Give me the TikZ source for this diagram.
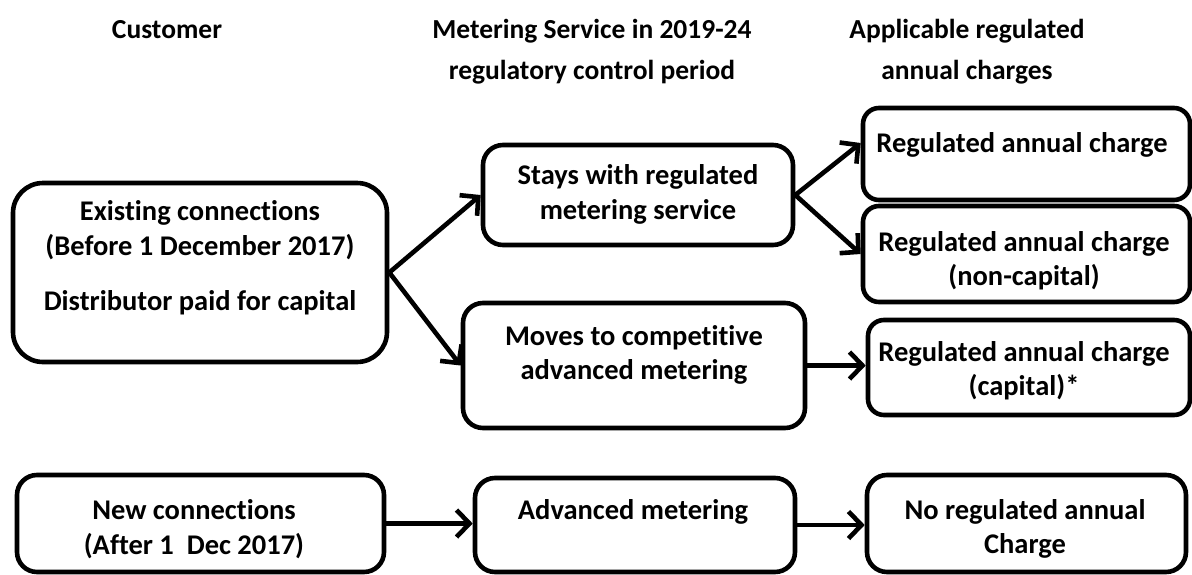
\documentclass[tikz,border=0pt]{standalone}
\usepackage{fontspec}
\setmainfont{Carlito}[Ligatures=NoCommon]
\usetikzlibrary{arrows.meta}
\begin{document}
\begin{tikzpicture}[x=1pt,y=-1pt,
  box/.style={draw=black, line width=4.6pt, rounded corners=20pt, inner sep=0pt},
  txt/.style={align=center, inner sep=0pt, font=\fontsize{28.5}{34.5}\selectfont\bfseries},
  hdr/.style={align=center, inner sep=0pt, font=\fontsize{27.5}{41}\selectfont\bfseries},
  arr/.style={line width=4.6pt, -{Straight Barb[length=13pt,width=27pt]}}]
\useasboundingbox (0,0) rectangle (1192,574);
% headers
\node[hdr] (h1) at (167,30) {Customer};
\node[hdr] (h2) at (592,52) {Metering Service in 2019-24\\regulatory control period};
\node[hdr] (h3) at (967,52) {Applicable regulated\\annual charges};
% boxes
\node[box, rounded corners=30pt, minimum width=374pt, minimum height=179pt] (ex) at (200,272.5) {};
\node[box, minimum width=310pt, minimum height=100pt] (stay) at (638,195) {};
\node[box, minimum width=342pt, minimum height=125pt] (move) at (634,365.5) {};
\node[box, rounded corners=16pt, minimum width=327pt, minimum height=92pt] (r1) at (1026.5,154) {};
\node[box, rounded corners=16pt, minimum width=327pt, minimum height=96pt] (r2) at (1026.5,254) {};
\node[box, rounded corners=16pt, minimum width=322pt, minimum height=95pt] (r3) at (1029,367.5) {};
\node[box, minimum width=367pt, minimum height=97pt] (new) at (200.5,523.5) {};
\node[box, minimum width=320pt, minimum height=94pt] (adv) at (635,525) {};
\node[box, minimum width=319pt, minimum height=97pt] (noreg) at (1026.5,523.5) {};
% texts
\node[txt] (ext1) at (200,230) {Existing connections\\(Before 1 December 2017)};
\node[txt] (ext2) at (200,303) {Distributor paid for capital};
\node[txt] (stayt) at (638,194.5) {Stays with regulated\\metering service};
\node[txt] (movet) at (634,355) {Moves to competitive\\advanced metering};
\node[txt] (r1t) at (1022,145) {Regulated annual charge};
\node[txt] (r2t) at (1024,260.5) {Regulated annual charge\\(non-capital)};
\node[txt] (r3t) at (1024,370.5) {Regulated annual charge\\(capital)*};
\node[txt] (newt) at (194,529) {New connections\\(After 1\ \ Dec 2017)};
\node[txt] (advt) at (633,512) {Advanced metering};
\node[txt] (noregt) at (1025,529) {No regulated annual\\Charge};
% arrows
\draw[arr] (ex.east) -- (stay.west);
\draw[arr] (ex.east) -- (move.west);
\draw[arr] (stay.east) -- ([yshift=11pt]r1.west);
\draw[arr] (stay.east) -- (r2.west);
\draw[arr] (move.east) -- (move.east -| r3.west);
\draw[arr] (new.east) -- (new.east -| adv.west);
\draw[arr] (adv.east) -- (adv.east -| noreg.west);
\end{tikzpicture}
\end{document}
